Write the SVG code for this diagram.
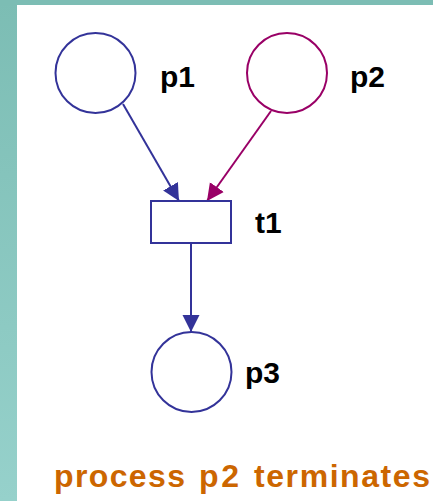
<svg xmlns="http://www.w3.org/2000/svg" width="433" height="501" viewBox="0 0 433 501">
  <style>
    .blue { stroke: #333399; }
    .mag { stroke: #990066; }
    .place, .trans { fill: #ffffff; stroke-width: 2; }
    .arc { fill: none; stroke-width: 2; }
    .label { font-family: "Liberation Sans", Arial, sans-serif; font-weight: bold; font-size: 30px; fill: #000000; }
    .caption { font-family: "Liberation Sans", Arial, sans-serif; font-weight: bold; font-size: 32px; fill: #cc6600; }
  </style>
  <defs>
    <linearGradient id="band" x1="0" y1="0" x2="0" y2="1">
      <stop offset="0" stop-color="#7cbdb4"/>
      <stop offset="1" stop-color="#96d1cb"/>
    </linearGradient>
    <marker id="arrowBlue" viewBox="0 0 10 10" refX="10" refY="5" markerUnits="userSpaceOnUse" markerWidth="17" markerHeight="18" orient="auto">
      <path d="M0,0 L10,5 L0,10 Z" fill="#333399"/>
    </marker>
    <marker id="arrowMag" viewBox="0 0 10 10" refX="10" refY="5" markerUnits="userSpaceOnUse" markerWidth="17" markerHeight="18" orient="auto">
      <path d="M0,0 L10,5 L0,10 Z" fill="#990066"/>
    </marker>
  </defs>

  <!-- slide background -->
  <rect x="0" y="0" width="433" height="501" fill="#ffffff"/>
  <rect x="0" y="0" width="17" height="501" fill="url(#band)"/>
  <rect x="0" y="0" width="433" height="5" fill="#7cbdb4"/>

  <!-- arcs -->
  <g id="connectors">
    <line class="arc blue" x1="123" y1="104" x2="179" y2="201" marker-end="url(#arrowBlue)"/>
    <line class="arc mag" x1="271" y1="111" x2="207" y2="201" marker-end="url(#arrowMag)"/>
    <line class="arc blue" x1="191" y1="243" x2="191" y2="332" marker-end="url(#arrowBlue)"/>
  </g>

  <g id="p1">
    <circle class="place blue" cx="95.5" cy="73" r="40"/>
    <text class="label" x="160" y="87">p1</text>
  </g>

  <g id="p2">
    <circle class="place mag" cx="287" cy="73" r="40"/>
    <text class="label" x="350" y="87">p2</text>
  </g>

  <g id="t1">
    <rect class="trans blue" x="151" y="201" width="80" height="42"/>
    <text class="label" x="255" y="233">t1</text>
  </g>

  <g id="p3">
    <circle class="place blue" cx="191.5" cy="372" r="40"/>
    <text class="label" x="245" y="383">p3</text>
  </g>

  <text class="caption" y="487"><tspan x="54" textLength="131" lengthAdjust="spacing">process</tspan> <tspan x="199" textLength="40" lengthAdjust="spacing">p2</tspan> <tspan x="254" textLength="176" lengthAdjust="spacing">terminates</tspan></text>
</svg>
